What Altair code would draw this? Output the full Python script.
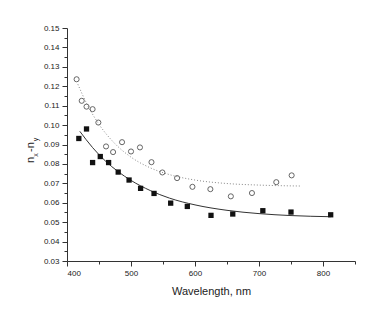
import altair as alt
import pandas as pd

# Open circles (upper series)
circ_x = [415, 423, 430.5, 440, 449, 461, 472, 486, 500, 514, 532, 549, 572, 596, 624, 656, 689, 727, 751]
circ_y = [0.1236, 0.1125, 0.1095, 0.1082, 0.1013, 0.0890, 0.0861, 0.0912, 0.0864, 0.0885,
          0.0809, 0.0756, 0.0727, 0.0682, 0.0670, 0.0633, 0.0650, 0.0706, 0.0741]

# Filled squares (lower series)
sq_x = [418.5, 430.5, 440, 452, 465, 480, 497, 515, 536, 562, 588, 625, 659, 706, 750, 812]
sq_y = [0.0931, 0.0980, 0.0807, 0.0838, 0.0807, 0.0758, 0.0717, 0.0674, 0.0648, 0.0598,
        0.0581, 0.0535, 0.0542, 0.0559, 0.0552, 0.0538]

# Fit curves
fit_sq_x = [420, 440, 460, 480, 500, 530, 560, 600, 650, 700, 750, 812]
fit_sq_y = [0.0968, 0.0884, 0.0815, 0.0760, 0.0715, 0.0663, 0.0624, 0.0589, 0.0561, 0.0544, 0.0534, 0.0528]

fit_c_x = [417, 430, 450, 475, 500, 530, 560, 600, 650, 700, 766]
fit_c_y = [0.1210, 0.1116, 0.1004, 0.0904, 0.0835, 0.0780, 0.0745, 0.0717, 0.0699, 0.0691, 0.0686]

x_ticks = [400, 450, 500, 550, 600, 650, 700, 750, 800, 850]
y_ticks = [round(0.03 + 0.005 * i, 3) for i in range(25)]

FONT = "Liberation Sans"

circ = pd.DataFrame({"x": circ_x, "y": circ_y})
sq = pd.DataFrame({"x": sq_x, "y": sq_y})
fsq = pd.DataFrame({"x": fit_sq_x, "y": fit_sq_y})
fc = pd.DataFrame({"x": fit_c_x, "y": fit_c_y})

xs = alt.Scale(domain=[400, 850], nice=False, zero=False)
ys = alt.Scale(domain=[0.03, 0.15], nice=False, zero=False)

x_axis = alt.Axis(
    title="Wavelength, nm", values=x_ticks,
    labelExpr="datum.value % 100 === 0 ? datum.label : ''",
    format="d", grid=False, labelOverlap=False,
    tickSize={"condition": {"test": "datum.value % 100 === 0", "value": 5}, "value": 3},
    labelFontSize=8, titleFontSize=11, titleFontWeight="normal", titlePadding=8,
    labelFont=FONT, titleFont=FONT, domainColor="#333", tickColor="#333",
    labelColor="#222", titleColor="#222", labelPadding=3,
)
y_axis = alt.Axis(
    title=None, values=y_ticks,
    labelExpr="abs(datum.value*100 - round(datum.value*100)) < 0.001 ? format(datum.value, '.2f') : ''",
    grid=False, labelOverlap=False,
    tickSize={"condition": {"test": "abs(datum.value*100 - round(datum.value*100)) < 0.001", "value": 5}, "value": 3},
    labelFontSize=8, labelFont=FONT, domainColor="#333", tickColor="#333",
    labelColor="#222", labelPadding=3,
)

base_x = alt.X("x:Q", scale=xs, axis=x_axis)
base_y = alt.Y("y:Q", scale=ys, axis=y_axis)

line_sq = alt.Chart(fsq).mark_line(color="#333", strokeWidth=1, interpolate="monotone").encode(x=base_x, y=base_y)
line_c = alt.Chart(fc).mark_line(color="#888", strokeWidth=1, strokeDash=[1, 2], interpolate="monotone").encode(x=base_x, y=base_y)
pts_c = alt.Chart(circ).mark_point(shape="circle", filled=False, color="#555", size=26, strokeWidth=0.9, opacity=1).encode(x=base_x, y=base_y)
pts_sq = alt.Chart(sq).mark_point(shape="square", filled=True, color="#111", size=28, opacity=1).encode(x=base_x, y=base_y)

def t(txt, x, y, size):
    return alt.Chart(pd.DataFrame({"a": [0]})).mark_text(
        text=txt, angle=270, align="center", baseline="middle", fontSize=size, font=FONT, color="#222"
    ).encode(x=alt.value(x), y=alt.value(y))

ytitle = t("n", -36.5, 132, 11) + t("x", -31.5, 127, 7) + t("-n", -36.5, 119, 11) + t("y", -31.5, 111.5, 7)

chart = alt.layer(line_c, line_sq, pts_c, pts_sq, ytitle).properties(
    width=288, height=233,
    autosize=alt.AutoSizeParams(type="none"),
    padding={"left": 59, "top": 20, "right": 15, "bottom": 45},
).configure_view(stroke=None)

chart.save("out.html", embed_options={"renderer": "svg", "actions": False})
